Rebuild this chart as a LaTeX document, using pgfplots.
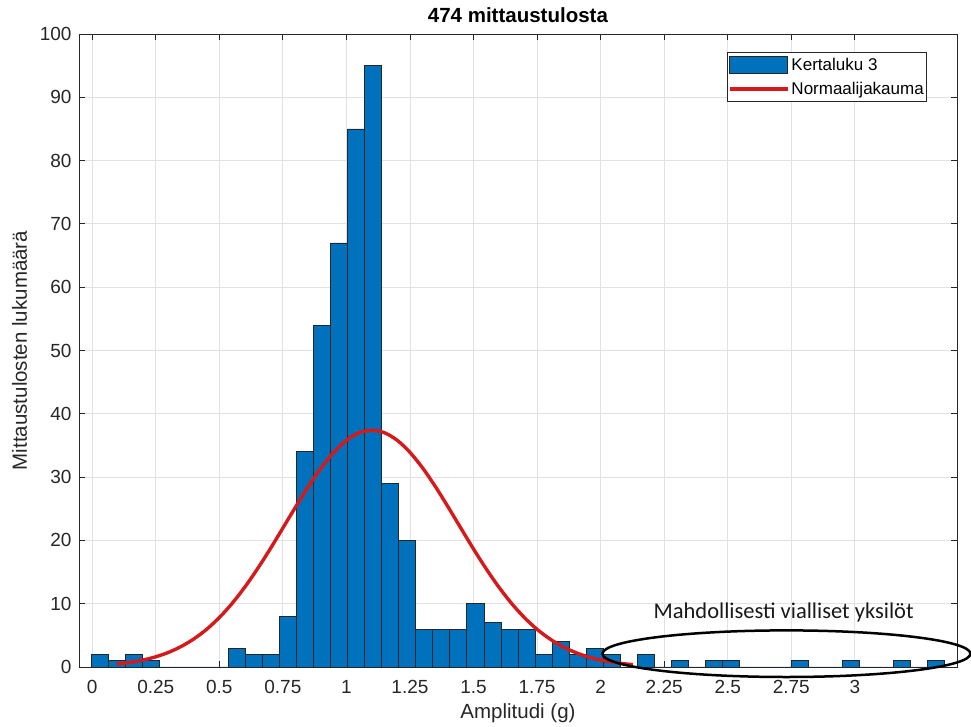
\documentclass[border=0pt]{standalone}
\usepackage{fontspec}
\setmainfont{Liberation Sans}
\newfontfamily\calibri{Carlito}
\usepackage{pgfplots}
\pgfplotsset{compat=1.18}
\definecolor{barblue}{RGB}{0,114,189}
\definecolor{baredge}{RGB}{38,38,38}
\definecolor{curvered}{RGB}{214,26,28}
\definecolor{axgray}{RGB}{38,38,38}
\definecolor{gridgray}{RGB}{226,226,226}
\begin{document}
\begin{tikzpicture}
\useasboundingbox (-79pt,-60pt) rectangle (892pt,667pt);
\begin{axis}[
  at={(0pt,0pt)}, anchor=south west,
  scale only axis,
  width=878pt, height=633pt,
  xmin=-0.052, xmax=3.402, ymin=0, ymax=100,
  clip=false,
  axis line style={draw=axgray, line width=0.8pt},
  tick style={draw=axgray, line width=0.8pt},
  major tick length=6pt,
  tick align=inside,
  xtick={0,0.25,0.5,0.75,1,1.25,1.5,1.75,2,2.25,2.5,2.75,3},
  xticklabels={0,0.25,0.5,0.75,1,1.25,1.5,1.75,2,2.25,2.5,2.75,3},
  ytick={0,10,20,30,40,50,60,70,80,90,100},
  /pgf/number format/assume math mode=true,
  tick label style={font=\fontsize{19}{21}\selectfont, text=axgray},
  xticklabel style={yshift=-10pt},
  yticklabel style={xshift=-4pt},
  grid=major,
  major grid style={draw=gridgray, line width=0.8pt},
  title={\textbf{474 mittaustulosta}},
  title style={font=\fontsize{20.5}{24}\selectfont, at={(axis description cs:0.5,1.009)}, anchor=base},
  xlabel={Amplitudi (g)},
  xlabel style={font=\fontsize{20.5}{24}\selectfont, text=axgray, at={(axis description cs:0.5,-0.0806)}, anchor=base},
  ylabel={Mittaustulosten lukumäärä},
  ylabel style={font=\fontsize{20.5}{24}\selectfont, text=axgray, at={(axis description cs:-0.0595,0.5)}, anchor=base, rotate=0},
  legend style={at={(axis description cs:0.966,0.972)}, anchor=north east,
    draw=axgray, line width=0.8pt, fill=white,
    font=\fontsize{17}{19}\selectfont,
    inner xsep=1pt, inner ysep=4pt, row sep=6pt,
    nodes={inner sep=2pt},
    /tikz/every even column/.style={column sep=3pt}},
  legend cell align=left,
]
\addplot[ybar interval, fill=barblue, draw=baredge, line width=0.7pt,
  legend image code/.code={\draw[fill=barblue, draw=baredge, line width=0.7pt] (0pt,-8.5pt) rectangle (58pt,8.5pt);}]
table[row sep=\\] {
x y\\
-0.0025 2\\
0.0646 1\\
0.1317 2\\
0.1988 1\\
0.2659 0\\
0.3330 0\\
0.4001 0\\
0.4672 0\\
0.5343 3\\
0.6014 2\\
0.6685 2\\
0.7356 8\\
0.8027 34\\
0.8698 54\\
0.9369 67\\
1.0040 85\\
1.0711 95\\
1.1382 29\\
1.2053 20\\
1.2724 6\\
1.3395 6\\
1.4066 6\\
1.4737 10\\
1.5408 7\\
1.6079 6\\
1.6750 6\\
1.7421 2\\
1.8092 4\\
1.8763 2\\
1.9434 3\\
2.0105 2\\
2.0776 0\\
2.1447 2\\
2.2118 0\\
2.2789 1\\
2.3460 0\\
2.4131 1\\
2.4802 1\\
2.5473 0\\
2.6144 0\\
2.6815 0\\
2.7486 1\\
2.8157 0\\
2.8828 0\\
2.9499 1\\
3.0170 0\\
3.0841 0\\
3.1512 1\\
3.2183 0\\
3.2854 1\\
3.3525 0\\
};
\addlegendentry{Kertaluku 3}
\addplot[curvered, line width=3.4pt, smooth,
  legend image code/.code={\draw[curvered, line width=3.4pt] (0pt,0pt) -- (58pt,0pt);}]
coordinates {
(0.096,0.47) (0.15,0.74) (0.20,1.10) (0.25,1.61) (0.30,2.31) (0.35,3.24)
(0.40,4.44) (0.45,5.95) (0.50,7.81) (0.55,10.03) (0.60,12.60) (0.65,15.50)
(0.70,18.64) (0.75,21.95) (0.80,25.28) (0.85,28.50) (0.90,31.43) (0.95,33.91)
(1.00,35.81) (1.05,37.00) (1.10,37.40) (1.15,37.00) (1.20,35.81) (1.25,33.91)
(1.30,31.43) (1.35,28.50) (1.40,25.28) (1.45,21.95) (1.50,18.64) (1.55,15.50)
(1.60,12.60) (1.65,10.03) (1.70,7.81) (1.75,5.95) (1.80,4.44) (1.85,3.24)
(1.90,2.31) (1.95,1.61) (2.00,1.10) (2.05,0.74) (2.10,0.48) (2.127,0.38)
};
\addlegendentry{Normaalijakauma}
\draw[black, line width=2.5pt] (axis cs:2.731,2.10) ellipse [x radius=184pt, y radius=23.3pt];
\node[font=\calibri\fontsize{22.5}{26}\selectfont, anchor=base, text=black!90] at (axis cs:2.72,7.6) {Mahdollisesti vialliset yksilöt};
\end{axis}
\end{tikzpicture}
\end{document}
